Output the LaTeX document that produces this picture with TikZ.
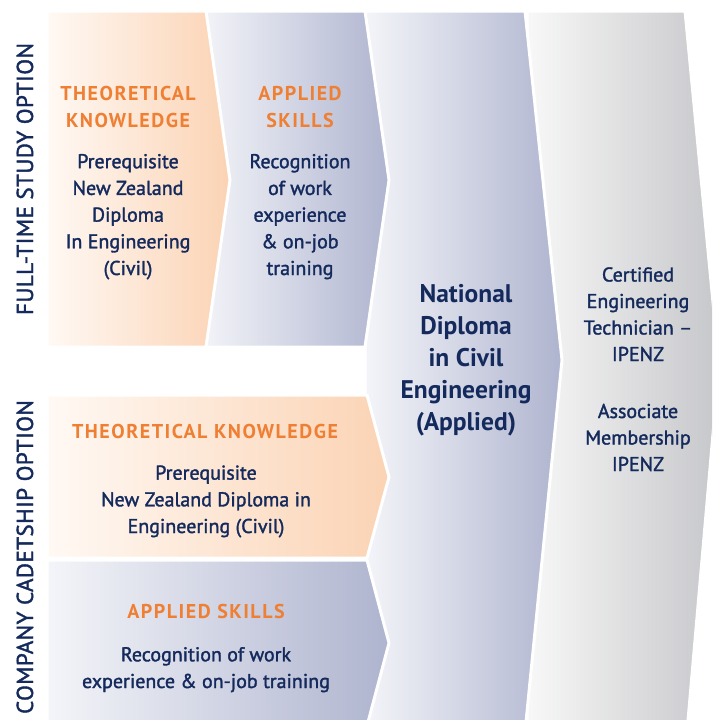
\documentclass[tikz,border=0pt]{standalone}
\usepackage{fontspec}
\setmainfont{PT Sans}
\newfontfamily\medfont{PT Sans}[FakeBold=1.6]
\definecolor{navy}{HTML}{142A5C}
\definecolor{orangeT}{HTML}{EE7F33}
\definecolor{orL}{HTML}{FFF9F4}
\definecolor{orR}{HTML}{FBD3B4}
\definecolor{lvL}{HTML}{F4F5F9}
\definecolor{lvR}{HTML}{AFB4CF}
\definecolor{gyL}{HTML}{F8F8F8}
\definecolor{gyR}{HTML}{C6C7CA}
\tikzset{
  gap/.style={draw=white, line width=3pt, line join=miter},
  orfill/.style={gap, left color=orL, right color=orR},
  lvfill/.style={gap, left color=lvL, right color=lvR},
  gyfill/.style={gap, left color=gyL, right color=gyR},
  body/.style={font=\medfont\fontsize{20}{26.7}\selectfont, text=navy, align=center, inner sep=0pt, anchor=base},
  head/.style={font=\fontsize{20}{27}\selectfont\bfseries\addfontfeatures{LetterSpace=7.5}, text=orangeT, align=center, inner sep=0pt, anchor=base},
  big/.style={font=\fontsize{25.5}{32}\selectfont\bfseries, text=navy, align=center, inner sep=0pt, anchor=base},
  side/.style={font=\medfont\fontsize{23}{23}\selectfont\addfontfeatures{LetterSpace=2}, text=navy, inner sep=0pt, anchor=base, rotate=90}
}
\begin{document}
\begin{tikzpicture}[x=1pt,y=-1pt]
\useasboundingbox (0,0) rectangle (712,720);
\clip (0,0) rectangle (712,720);
\fill[white] (0,0) rectangle (712,720);
% gray shape
\path[gyfill] (527,11) -- (685,11) -- (719,365) -- (687,732) -- (527,732) -- cycle;
% national diploma shape
\path[lvfill] (365,11) -- (525,11) -- (562,360) -- (525,732) -- (365,732) -- cycle;
% top applied skills
\path[lvfill] (200,11) -- (365,11) -- (389,180) -- (365,347) -- (200,347) -- cycle;
% top theoretical
\path[orfill] (47,11) -- (206,11) -- (230,180) -- (206,347) -- (47,347) -- cycle;
% lower applied
\path[lvfill] (47,560) -- (367,560) -- (389,643) -- (367,726) -- (47,726) -- cycle;
% lower theoretical
\path[orfill] (47,395) -- (367,395) -- (389,477) -- (367,558) -- (47,558) -- cycle;

\node[head] (th1) at (128,127) {THEORETICAL\\KNOWLEDGE};
\node[body] (tb1) at (128,275) {Prerequisite\\New Zealand\\Diploma\\In Engineering\\(Civil)};
\node[head] (ah1) at (300,127) {APPLIED\\SKILLS};
\node[body] (ab1) at (300,275) {Recognition\\of work\\experience\\\& on-job\\training};
\node[big] (nd) at (466,430) {National\\Diploma\\in Civil\\Engineering\\(Applied)};
\node[body, font=\medfont\fontsize{20}{26.5}\selectfont] (cert) at (638,361) {Certified\\Engineering\\Technician –\\IPENZ};
\node[body, font=\medfont\fontsize{20}{26.5}\selectfont] (assoc) at (638,471) {Associate\\Membership\\IPENZ};
\node[head] (th2) at (205,438) {THEORETICAL KNOWLEDGE};
\node[body] (tb2) at (206,533) {Prerequisite\\New Zealand Diploma in\\Engineering (Civil)};
\node[head] (ah2) at (206,618) {APPLIED SKILLS};
\node[body] (ab2) at (206,688) {Recognition of work\\experience \& on-job training};
\node[side] (fts) at (33,179) {FULL-TIME STUDY OPTION};
\node[side] (cco) at (33,557) {COMPANY CADETSHIP OPTION};
\end{tikzpicture}
\end{document}
